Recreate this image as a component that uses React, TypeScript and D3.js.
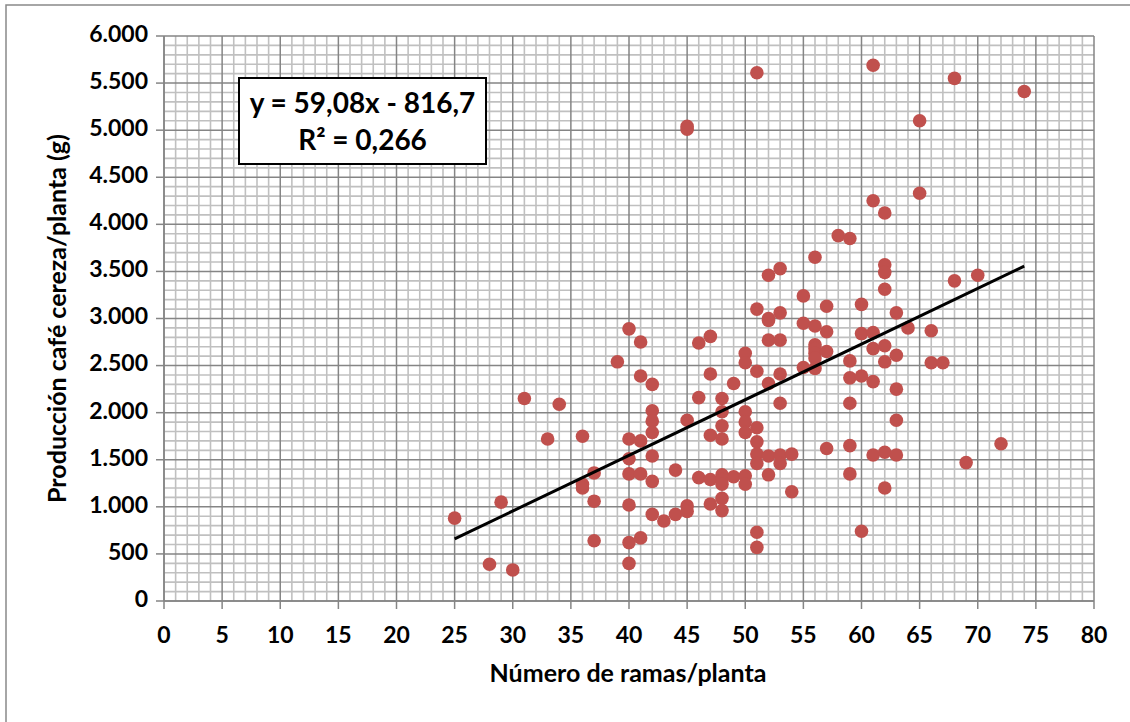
import React from "react";
import * as d3 from "d3";

// número de ramas por planta (eje x), una fila por valor de x
const ramas: number[] = [
  25, 28, 29, 30, 31, 33, 34,
  36, 36, 36,
  37, 37, 37,
  39,
  40, 40, 40, 40, 40, 40, 40,
  41, 41, 41, 41, 41,
  42, 42, 42, 42, 42, 42, 42,
  43,
  44, 44,
  45, 45, 45, 45, 45,
  46, 46, 46,
  47, 47, 47, 47, 47,
  48, 48, 48, 48, 48, 48, 48, 48, 48,
  49, 49,
  50, 50, 50, 50, 50, 50, 50,
  51, 51, 51, 51, 51, 51, 51, 51, 51,
  52, 52, 52, 52, 52, 52, 52,
  53, 53, 53, 53, 53, 53, 53,
  54, 54,
  55, 55, 55,
  56, 56, 56, 56, 56, 56, 56,
  57, 57, 57, 57,
  58,
  59, 59, 59, 59, 59, 59,
  60, 60, 60, 60,
  61, 61, 61, 61, 61, 61,
  62, 62, 62, 62, 62, 62, 62, 62,
  63, 63, 63, 63, 63,
  64,
  65, 65,
  66, 66,
  67,
  68, 68,
  69, 70, 72, 74,
];

// producción café cereza por planta (g), mismo orden
const produccion: number[] = [
  880, 390, 1050, 330, 2150, 1720, 2090,
  1750, 1240, 1200,
  1360, 1060, 640,
  2540,
  2890, 1720, 1510, 1350, 1020, 620, 400,
  2750, 2390, 1700, 1350, 670,
  2300, 2020, 1910, 1790, 1540, 1270, 920,
  850,
  1390, 920,
  5040, 5010, 1920, 1010, 950,
  2740, 2160, 1310,
  2810, 2410, 1760, 1290, 1030,
  2150, 2010, 1860, 1720, 1340, 1290, 1240, 1090, 960,
  2310, 1320,
  2630, 2530, 2010, 1900, 1790, 1330, 1240,
  5610, 3100, 2440, 1840, 1690, 1560, 1460, 730, 570,
  3460, 3000, 2980, 2770, 2310, 1540, 1340,
  3530, 3060, 2770, 2410, 2100, 1550, 1460,
  1560, 1160,
  3240, 2950, 2480,
  3650, 2920, 2720, 2680, 2630, 2580, 2470,
  3130, 2860, 2650, 1620,
  3880,
  3850, 2550, 2370, 2100, 1650, 1350,
  3150, 2840, 2390, 740,
  5690, 4250, 2850, 2680, 2330, 1550,
  4120, 3570, 3490, 3310, 2710, 2540, 1580, 1200,
  3060, 2610, 2250, 1920, 1550,
  2900,
  5100, 4330,
  2870, 2530,
  2530,
  5550, 3400,
  1470, 3460, 1670, 5410,
];

// línea de tendencia lineal (Excel)
const pendiente = 59.08;
const intercepto = -816.7;
const rangoTendencia = [25, 74];

const xTicks = d3.range(0, 81, 5);
const yTicks = d3.range(0, 6001, 500);

const ecuacion = "y = 59,08x - 816,7";
const r2Texto = "R² = 0,266";

const fmt = d3
  .formatLocale({ decimal: ",", thousands: ".", grouping: [3], currency: ["", ""] })
  .format(",");

const App = () => {
  const W = 1130;
  const H = 722;
  const margin = { top: 36, left: 164, bottom: 121, right: 36 };

  const x = d3.scaleLinear().domain([0, 80]).range([margin.left, W - margin.right]);
  const y = d3.scaleLinear().domain([0, 6000]).range([H - margin.bottom, margin.top]);

  const font = "Lato, 'DejaVu Sans', sans-serif";
  const minorX = d3.range(0, 81, 1).filter((d) => d % 5 !== 0);
  const minorY = d3.range(0, 6001, 100).filter((d) => d % 500 !== 0);

  const tendencia = d3
    .line<number>()
    .x((d) => x(d))
    .y((d) => y(pendiente * d + intercepto));

  const [x0, x1] = x.range();
  const [y0, y1] = y.range();

  return (
    <svg
      width={W}
      height={H}
      style={{ position: "absolute", left: 0, top: 0, background: "#fff" }}
    >
      {/* marco del gráfico */}
      <rect x={6} y={5} width={W} height={H} fill="#fff" stroke="#898989" strokeWidth={1.5} />

      {/* rejilla secundaria */}
      <g stroke="#c0c0c0" strokeWidth={1.6}>
        {minorX.map((d) => (
          <line key={"mx" + d} x1={x(d)} x2={x(d)} y1={y1} y2={y0} />
        ))}
        {minorY.map((d) => (
          <line key={"my" + d} x1={x0} x2={x1} y1={y(d)} y2={y(d)} />
        ))}
      </g>

      {/* rejilla principal */}
      <g stroke="#858585" strokeWidth={1.5}>
        {xTicks.map((d) => (
          <line key={"gx" + d} x1={x(d)} x2={x(d)} y1={y1} y2={y0} />
        ))}
        {yTicks.map((d) => (
          <line key={"gy" + d} x1={x0} x2={x1} y1={y(d)} y2={y(d)} />
        ))}
      </g>

      {/* ejes y marcas */}
      <g stroke="#858585" strokeWidth={1.5}>
        <line x1={x0} x2={x1} y1={y0} y2={y0} />
        <line x1={x0} x2={x0} y1={y0} y2={y1} />
        {xTicks.map((d) => (
          <line key={"tx" + d} x1={x(d)} x2={x(d)} y1={y0} y2={y0 + 8} />
        ))}
        {yTicks.map((d) => (
          <line key={"ty" + d} x1={x0 - 8} x2={x0} y1={y(d)} y2={y(d)} />
        ))}
      </g>

      {/* etiquetas de los ejes */}
      <g fontFamily={font} fontWeight="bold" fontSize={23} fill="#000">
        {xTicks.map((d) => (
          <text key={"lx" + d} x={x(d)} y={y0 + 36} textAnchor="middle" dominantBaseline="middle">
            {d}
          </text>
        ))}
        {yTicks.map((d) => (
          <text key={"ly" + d} x={x0 - 16} y={y(d)} textAnchor="end" dominantBaseline="middle">
            {fmt(d)}
          </text>
        ))}
      </g>

      {/* puntos */}
      <g fill="#c0504d">
        {ramas.map((d, i) => (
          <circle key={"p" + i} cx={x(d)} cy={y(produccion[i])} r={6.8} />
        ))}
      </g>

      {/* tendencia */}
      <path d={tendencia(rangoTendencia) || ""} fill="none" stroke="#000" strokeWidth={3} />

      {/* cuadro con la ecuación */}
      <rect x={239} y={78} width={247} height={86} fill="#fff" stroke="#000" strokeWidth={2} />
      <g fontFamily={font} fontWeight="bold" fontSize={28} fill="#000" textAnchor="middle">
        <text x={362.5} y={106} dominantBaseline="middle">
          {ecuacion}
        </text>
        <text x={362.5} y={143} dominantBaseline="middle">
          {r2Texto}
        </text>
      </g>

      {/* títulos */}
      <text
        x={628}
        y={676}
        fontFamily={font}
        fontWeight="bold"
        fontSize={25}
        textAnchor="middle"
        dominantBaseline="middle"
      >
        Número de ramas/planta
      </text>
      <text
        transform={`translate(60, ${(y0 + y1) / 2}) rotate(-90)`}
        fontFamily={font}
        fontWeight="bold"
        fontSize={25}
        textAnchor="middle"
        dominantBaseline="middle"
      >
        Producción café cereza/planta (g)
      </text>
    </svg>
  );
};

export default App;
